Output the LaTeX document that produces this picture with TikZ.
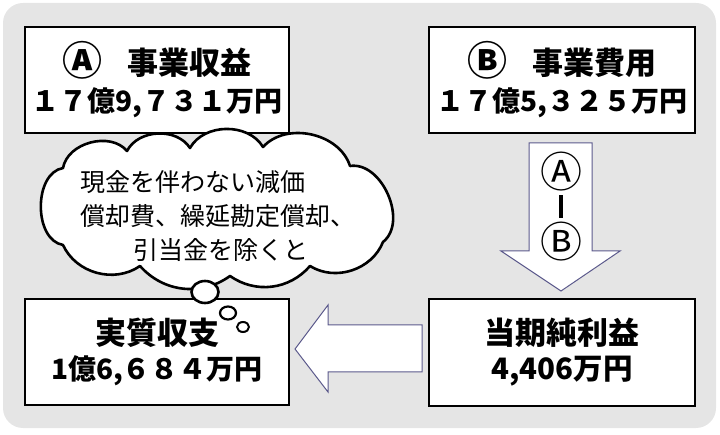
\documentclass[tikz,border=0pt]{standalone}
\usepackage{fontspec}
\setmainfont{Noto Sans CJK JP}
\usetikzlibrary{shapes.geometric}
\definecolor{bg}{HTML}{E5E5E5}
\definecolor{arrowline}{HTML}{5C5A8C}
\newcommand{\lineB}{\fontsize{28}{37}\selectfont}
\newcommand{\circlabel}[1]{{\fontsize{40}{37}\selectfont\raisebox{-1pt}{#1}}}
\begin{document}
\begin{tikzpicture}[x=1pt,y=-1pt,
  box/.style={draw=black, line width=1.3pt, fill=white, inner sep=0pt, align=center,
    font=\bfseries\fontsize{31}{37}\selectfont},
  bigarrow/.style={draw=arrowline, line width=1pt, fill=white, line join=miter},
  thought/.style={draw=black, line width=2.6pt, fill=white},
  circtxt/.style={font=\fontsize{42}{42}\selectfont, inner sep=0pt}]
\useasboundingbox (0,0) rectangle (720,435);
\fill[bg, rounded corners=20pt] (3,3) rectangle (716,428);

% boxes
\node[box, minimum width=264pt, minimum height=106pt] (a) at (157,80)
  {\circlabel{Ⓐ}\hspace{0.8em}事業収益\\{\lineB １７億9,７３１万円}};
\node[box, minimum width=266pt, minimum height=106pt] (b) at (562,80)
  {\circlabel{Ⓑ}\hspace{0.8em}事業費用\\{\lineB １７億5,３２５万円}};
\node[box, minimum width=266pt, minimum height=107pt] (p) at (562,352.5)
  {当期純利益\\[-2pt]{\fontsize{29.5}{37}\selectfont 4,406万円}};
\node[box, minimum width=264pt, minimum height=106pt] (r) at (157,352)
  {実質収支\\[-2pt]{\lineB 1億6,６８４万円}};

% down arrow
\draw[bigarrow] (529,143) -- (592,143) -- (592,251) -- (620,251) -- (561,291)
  -- (501,251) -- (529,251) -- cycle;
\node[circtxt] (ca) at (561,172) {Ⓐ};
\node[inner sep=0pt] (minus) at (561,206.5) {\rule{4pt}{23pt}};
\node[circtxt] (cb) at (561,242) {Ⓑ};

% left arrow
\draw[bigarrow] (422,325) -- (328,325) -- (328,305) -- (295,349) -- (328,392)
  -- (328,372) -- (422,372) -- cycle;

% cloud
\draw[thought, line join=round]
  (63,168) to[bend left=65] (127,151) to[bend left=60] (190,148)
  to[bend left=60] (263,147) to[bend left=60] (350,166)
  to[bend left=75] (383,242) to[bend left=50] (310,266)
  to[bend left=42] (230,276) to[bend left=42] (140,266)
  to[bend left=50] (63,245) to[bend left=80] cycle;
\node[anchor=west, align=left, inner sep=0pt, font=\fontsize{25}{34}\selectfont] (ct) at (80,216)
  {現金を伴わない減価\\償却費、繰延勘定償却、\\\hspace{53pt}引当金を除くと};

% thought bubbles
\node[ellipse, thought, minimum width=27pt, minimum height=22pt, inner sep=0pt] (t1) at (205,292) {};
\node[ellipse, thought, line width=2.2pt, minimum width=16pt, minimum height=13pt, inner sep=0pt] (t2) at (228,313) {};
\node[ellipse, thought, line width=2pt, minimum width=12pt, minimum height=10pt, inner sep=0pt] (t3) at (243,327) {};
\end{tikzpicture}
\end{document}
